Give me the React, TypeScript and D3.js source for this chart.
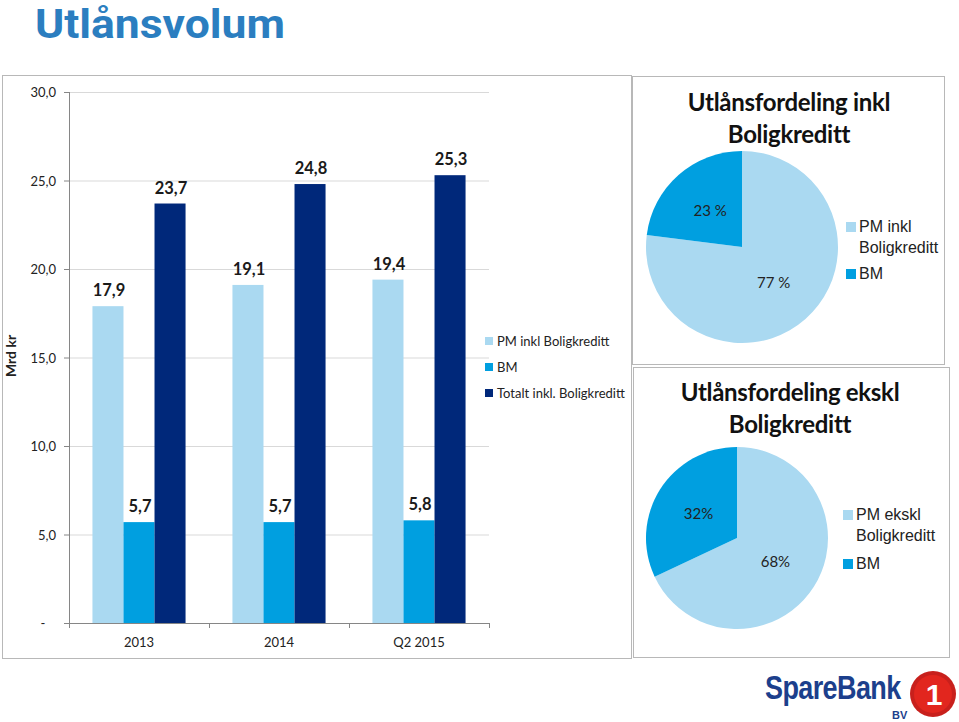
import React from "react";
import * as d3 from "d3";

const categories = ["2013", "2014", "Q2 2015"];
const seriesNames = ["PM inkl Boligkreditt", "BM", "Totalt inkl. Boligkreditt"];
const pmValues = [17.9, 19.1, 19.4];
const bmValues = [5.7, 5.7, 5.8];
const totalValues = [23.7, 24.8, 25.3];
const yTicks = [0, 5, 10, 15, 20, 25, 30];
const yTickLabels = ["-", "5,0", "10,0", "15,0", "20,0", "25,0", "30,0"];

const pie1Names = ["PM inkl Boligkreditt", "BM"];
const pie1Values = [77, 23];
const pie1Labels = ["77 %", "23 %"];
const pie2Names = ["PM ekskl Boligkreditt", "BM"];
const pie2Values = [68, 32];
const pie2Labels = ["68%", "32%"];

const COLORS = ["#aad9f1", "#009fe0", "#00287a"];
const FONT = "Lato, 'Open Sans', sans-serif";
const ARIAL = "'Liberation Sans', Arial, sans-serif";

const fmt = (v: number) => v.toFixed(1).replace(".", ",");

function Pie({ cx, cy, r, values, labels, names, legendX, legendY }: any) {
  const arcs = d3.pie<number>().sort(null)(values);
  const arc = d3.arc<d3.PieArcDatum<number>>().innerRadius(0).outerRadius(r);
  return (
    <g>
      {arcs.map((a, i) => (
        <path key={i} d={arc(a) || ""} transform={`translate(${cx},${cy})`} fill={COLORS[i]} />
      ))}
      {arcs.map((a, i) => {
        const [x, y] = arc.centroid(a);
        return (
          <text key={"l" + i} x={cx + x} y={cy + y + 5} textAnchor="middle" fontFamily={FONT} fontSize={15} fill="#222">
            {labels[i]}
          </text>
        );
      })}
      {names.map((n: string, i: number) => {
        const words = n.split(" ");
        const lines = words.length > 1 ? [words.slice(0, -1).join(" "), words[words.length - 1]] : [n];
        const y0 = legendY[i];
        return (
          <g key={"g" + i}>
            <rect x={legendX} y={y0 - 10} width={10} height={10} fill={COLORS[i]} />
            {lines.map((ln, j) => (
              <text key={j} x={legendX + 13} y={y0 + j * 21} fontFamily={ARIAL} fontSize={16} fill="#222">
                {ln}
              </text>
            ))}
          </g>
        );
      })}
    </g>
  );
}

export default function App() {
  const plotLeft = 69;
  const plotRight = 489;
  const x = d3.scaleBand<string>().domain(categories).range([plotLeft, plotRight]);
  const y = d3.scaleLinear().domain([0, 30]).range([623, 92]);
  const series = [pmValues, bmValues, totalValues];

  const bw = x.bandwidth();
  const groupW = bw * 0.665;
  const sub = d3.scaleBand<number>().domain([0, 1, 2]).range([(bw - groupW) / 2, (bw + groupW) / 2]);

  return (
    <svg width={959} height={722} style={{ position: "absolute", left: 0, top: 0, background: "#fff" }}>
      <rect x={0} y={0} width={959} height={722} fill="#fff" />
      {/* Title */}
      <text x={35} y={38} fontFamily={"Roboto, 'Open Sans', sans-serif"} fontWeight={700} fontSize={40} fill="#2b7ec0" textLength={250} lengthAdjust="spacingAndGlyphs">
        Utlånsvolum
      </text>

      {/* Left panel */}
      <rect x={2.5} y={75.5} width={629} height={583} fill="none" stroke="#b8b8b8" />
      {yTicks.map((t, i) => (
        <g key={t}>
          {t > 0 && <line x1={plotLeft} x2={plotRight} y1={y(t) + 0.5} y2={y(t) + 0.5} stroke="#d9d9d9" />}
          <line x1={plotLeft - 5} x2={plotLeft} y1={y(t) + 0.5} y2={y(t) + 0.5} stroke="#868686" />
          <text
            x={t === 0 ? 43 : 56}
            y={y(t) + 5}
            textAnchor={t === 0 ? "middle" : "end"}
            fontFamily={FONT}
            fontSize={13}
            fill="#222"
          >
            {yTickLabels[i]}
          </text>
        </g>
      ))}
      <line x1={plotLeft + 0.5} x2={plotLeft + 0.5} y1={92} y2={623} stroke="#868686" />
      <text transform="translate(16,356) rotate(-90)" textAnchor="middle" fontFamily={FONT} fontWeight={700} fontSize={14} fill="#222">
        Mrd kr
      </text>

      {categories.map((c, ci) =>
        series.map((vals, si) => {
          const bx = (x(c) || 0) + (sub(si) || 0);
          const w = sub.bandwidth();
          const v = vals[ci];
          return (
            <g key={c + si}>
              <rect x={bx} y={y(v)} width={w} height={y(0) - y(v)} fill={COLORS[si]} />
              <text x={bx + w / 2 + 1} y={y(v) - 10} textAnchor="middle" fontFamily={FONT} fontWeight={700} fontSize={16.5} fill="#1a1a1a">
                {fmt(v)}
              </text>
            </g>
          );
        })
      )}
      <line x1={plotLeft} x2={plotRight} y1={623.5} y2={623.5} stroke="#868686" />
      {[0, 1, 2, 3].map((i) => (
        <line key={i} x1={plotLeft + i * bw + 0.5} x2={plotLeft + i * bw + 0.5} y1={623} y2={628} stroke="#868686" />
      ))}
      {categories.map((c) => (
        <text key={c} x={(x(c) || 0) + bw / 2} y={647} textAnchor="middle" fontFamily={FONT} fontSize={13} fill="#222">
          {c}
        </text>
      ))}

      {/* Bar legend */}
      {seriesNames.map((n, i) => (
        <g key={n}>
          <rect x={485} y={337 + i * 26} width={8} height={8} fill={COLORS[i]} />
          <text x={497} y={346 + i * 26} fontFamily={FONT} fontSize={13} fill="#222">
            {n}
          </text>
        </g>
      ))}

      {/* Pie panel 1 */}
      <rect x={632.5} y={76.5} width={312} height={288} fill="#fff" stroke="#b8b8b8" />
      <text x={789} y={111} textAnchor="middle" fontFamily={FONT} fontWeight={700} fontSize={24} fill="#111" letterSpacing={-0.3}>
        Utlånsfordeling inkl
      </text>
      <text x={789} y={143} textAnchor="middle" fontFamily={FONT} fontWeight={700} fontSize={24} fill="#111" letterSpacing={-0.3}>
        Boligkreditt
      </text>
      <Pie cx={742} cy={247} r={96} values={pie1Values} labels={pie1Labels} names={pie1Names} legendX={846} legendY={[232, 279]} />

      {/* Pie panel 2 */}
      <rect x={633.5} y={367.5} width={316} height={290} fill="#fff" stroke="#b8b8b8" />
      <text x={790} y={401} textAnchor="middle" fontFamily={FONT} fontWeight={700} fontSize={24} fill="#111" letterSpacing={-0.3}>
        Utlånsfordeling ekskl
      </text>
      <text x={790} y={433} textAnchor="middle" fontFamily={FONT} fontWeight={700} fontSize={24} fill="#111" letterSpacing={-0.3}>
        Boligkreditt
      </text>
      <Pie cx={737} cy={538} r={91} values={pie2Values} labels={pie2Labels} names={pie2Names} legendX={843} legendY={[520, 569]} />

      {/* Logo */}
      <text transform="translate(765,699) scale(1,1.2)" fontFamily={ARIAL} fontWeight={700} fontSize={27} fill="#1c3f8c" letterSpacing={-0.6}>
        SpareBank
      </text>
      <text x={892} y={719} fontFamily={ARIAL} fontWeight={700} fontSize={11} fill="#1c3f8c">
        BV
      </text>
      <circle cx={933} cy={694} r={23} fill="#c8201c" />
      <circle cx={933} cy={694} r={19} fill="#e2261e" />
      <text x={934} y={705} textAnchor="middle" fontFamily={ARIAL} fontWeight={700} fontSize={30} fill="#fff">
        1
      </text>
    </svg>
  );
}
